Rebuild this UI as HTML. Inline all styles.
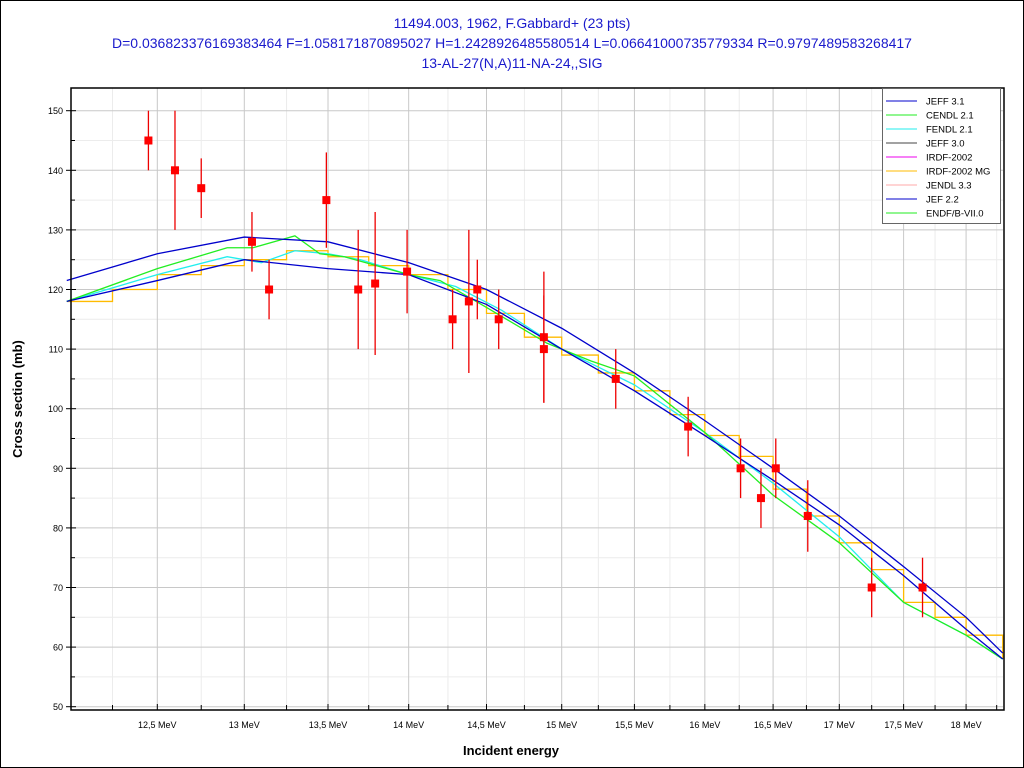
<!DOCTYPE html>
<html><head><meta charset="utf-8"><style>
html,body{margin:0;padding:0;background:#fff;}
svg{display:block;font-family:"Liberation Sans",sans-serif;}
</style></head><body>
<svg id="chart" width="1024" height="768">
<rect x="0.5" y="0.5" width="1023" height="767" fill="#fff" stroke="#000"/>
<g fill="#1a1acc" font-size="14" text-anchor="middle">
<text x="512" y="28">11494.003, 1962, F.Gabbard+ (23 pts)</text>
<text x="512" y="48">D=0.036823376169383464 F=1.058171870895027 H=1.2428926485580514 L=0.06641000735779334 R=0.9797489583268417</text>
<text x="512" y="68">13-AL-27(N,A)11-NA-24,,SIG</text>
</g>
<g id="grid"></g>
<g id="curves"></g>
<g id="points"></g>
<g id="axes"></g>
<text x="22" y="399" transform="rotate(-90 22 399)" text-anchor="middle" font-size="13" font-weight="bold">Cross section (mb)</text>
<text x="511" y="755" text-anchor="middle" font-size="13" font-weight="bold">Incident energy</text>
<g id="legend"></g>
</svg>
<script>
const xTicks=[12.5,13,13.5,14,14.5,15,15.5,16,16.5,17,17.5,18];
const xTickLabels=["12,5 MeV","13 MeV","13,5 MeV","14 MeV","14,5 MeV","15 MeV","15,5 MeV","16 MeV","16,5 MeV","17 MeV","17,5 MeV","18 MeV"];
const yTicks=[50,60,70,80,90,100,110,120,130,140,150];
const ptE=[12.45,12.6,12.75,13.045,13.146,13.49,13.685,13.79,13.99,14.28,14.385,14.44,14.58,14.88,14.88,15.37,15.88,16.26,16.41,16.52,16.76,17.25,17.65];
const ptV=[145,140,137,128,120,135,120,121,123,115,118,120,115,112,110,105,97,90,85,90,82,70,70];
const ptErr=[5,10,5,5,5,8,10,12,7,5,12,5,5,11,9,5,5,5,5,5,6,5,5];
const jeffE=[12.0,12.5,13.0,13.5,14.0,14.5,15.0,15.5,16.0,16.5,17.0,17.5,18.0,18.3];
const jeffV=[121.5,126,128.8,128,124.5,120,113.5,106,98,90,82,73.5,65,59];
const jefE=[12.0,12.5,13.0,13.5,14.0,14.5,15.0,15.5,16.0,16.5,17.0,17.5,18.0,18.3];
const jefV=[118,121.5,125,123.5,122.5,117.5,110,103,95.5,88,80.5,72,63,58];
const cendlE=[12.0,12.5,12.9,13.05,13.3,13.45,13.6,14.0,14.2,14.5,14.9,15.2,15.5,16.0,16.5,17.0,17.5,18.0,18.3];
const cendlV=[118,123.5,127,127,129,126,125.5,122.5,121.5,117,111,108,105.5,96,85.5,77.5,67.5,62,58];
const fendlE=[12.0,12.5,12.9,13.1,13.3,13.5,13.7,14.0,14.3,14.6,15.0,15.5,16.0,16.5,17.0,17.5,18.0,18.3];
const fendlV=[118,122.5,125.5,124.5,126.5,126,125,122.5,120.5,116.5,110,104,96,87.5,78.5,67.5,62,58];
const mgE=[12.0,12.25,12.5,12.75,13.0,13.25,13.5,13.75,14.0,14.25,14.5,14.75,15.0,15.25,15.5,15.75,16.0,16.25,16.5,16.75,17.0,17.25,17.5,17.75,18.0,18.3];
const mgV=[118,120,122.5,124,125,126.5,125.5,124,122.5,120,116,112,109,106,103,99,95.5,92,86.5,82,77.5,73,67.5,65,62,58];
const legendNames=["JEFF 3.1","CENDL 2.1","FENDL 2.1","JEFF 3.0","IRDF-2002","IRDF-2002 MG","JENDL 3.3","JEF 2.2","ENDF/B-VII.0"];
const legendColors=["#0000cc","#22ee22","#22eeee","#444444","#ee00ee","#ffbb00","#ffaaaa","#0000cc","#22ee22"];

const NS="http://www.w3.org/2000/svg";
const L=71,R=1003,T=88,B=710;
const X=e=>244.3+2218*Math.log(e/13);
const Y=v=>706.7-(v-50)*5.96;
function mk(tag,attrs,parent){const el=document.createElementNS(NS,tag);for(const k in attrs)el.setAttribute(k,attrs[k]);parent.appendChild(el);return el;}
const grid=document.getElementById('grid'),axes=document.getElementById('axes');
for(let e=12.25;e<18.3;e+=0.5){const x=X(e);const g=mk('line',{x1:x,x2:x,y1:T,y2:B,stroke:'#ececec'},grid);


const t=mk('line',{x1:x,x2:x,y1:B-5,y2:B,stroke:'#000'},axes);

}
for(let v=55;v<155;v+=10){const y=Y(v);const g=mk('line',{x1:L,x2:R,y1:y,y2:y,stroke:'#ececec'},grid);


const t=mk('line',{x1:L,x2:L+4,y1:y,y2:y,stroke:'#000'},axes);

}
xTicks.forEach((e,i)=>{const x=X(e);const g=mk('line',{x1:x,x2:x,y1:T,y2:B,stroke:'#c8c8c8'},grid);


const t=mk('line',{x1:x,x2:x,y1:B-6,y2:B,stroke:'#000'},axes);


const l=mk('text',{x:x,y:B+18,'font-size':'9','text-anchor':'middle'},axes);l.textContent=xTickLabels[i];

});
yTicks.forEach(v=>{const y=Y(v);const g=mk('line',{x1:L,x2:R,y1:y,y2:y,stroke:'#c8c8c8'},grid);


const t=mk('line',{x1:L-5,x2:L+5,y1:y,y2:y,stroke:'#000'},axes);


const l=mk('text',{x:L-8,y:y+3.5,'font-size':'9','text-anchor':'end'},axes);l.textContent=v;

});
const frame=mk('path',{d:`M${L},${T}H${R+1}V${B}H${L}Z`,fill:'none',stroke:'#000','stroke-width':'1.5'},axes);


const curves=document.getElementById('curves');
function line(E,V,color,name,step){let d='';E.forEach((e,i)=>{const x=X(e),y=Y(V[i]);if(i==0)d=`M${x},${y}`;else if(step)d+=`H${x}V${y}`;else d+=`L${x},${y}`;});
const p=mk('path',{d:d,fill:'none',stroke:color,'stroke-width':'1.3'},curves);

}
line(mgE,mgV,'#ffbb00','irdf-2002-mg-curve',true);
line(fendlE,fendlV,'#22eeee','fendl-2.1-curve',false);
line(cendlE,cendlV,'#22ee22','cendl-2.1-curve',false);
line(jefE,jefV,'#0000cc','jef-2.2-curve',false);
line(jeffE,jeffV,'#0000cc','jeff-3.1-curve',false);
const pts=document.getElementById('points');
ptE.forEach((e,i)=>{const x=X(e),y=Y(ptV[i]);
const eb=mk('line',{x1:x,x2:x,y1:Y(ptV[i]+ptErr[i]),y2:Y(ptV[i]-ptErr[i]),stroke:'#ee0000','stroke-width':'1.3'},pts);


const m=mk('rect',{x:x-4,y:y-4,width:8,height:8,fill:'#ff0000'},pts);

});
const lg=document.getElementById('legend');
const box=mk('rect',{x:882.5,y:88.5,width:118,height:135,fill:'#fff',stroke:'#666'},lg);


legendNames.forEach((n,i)=>{const y=101+i*14;
const s=mk('line',{x1:886,x2:917,y1:y,y2:y,stroke:legendColors[i]},lg);


const t=mk('text',{x:926,y:y+3.5,'font-size':'9.5'},lg);t.textContent=n;

});
</script>
</body></html>
